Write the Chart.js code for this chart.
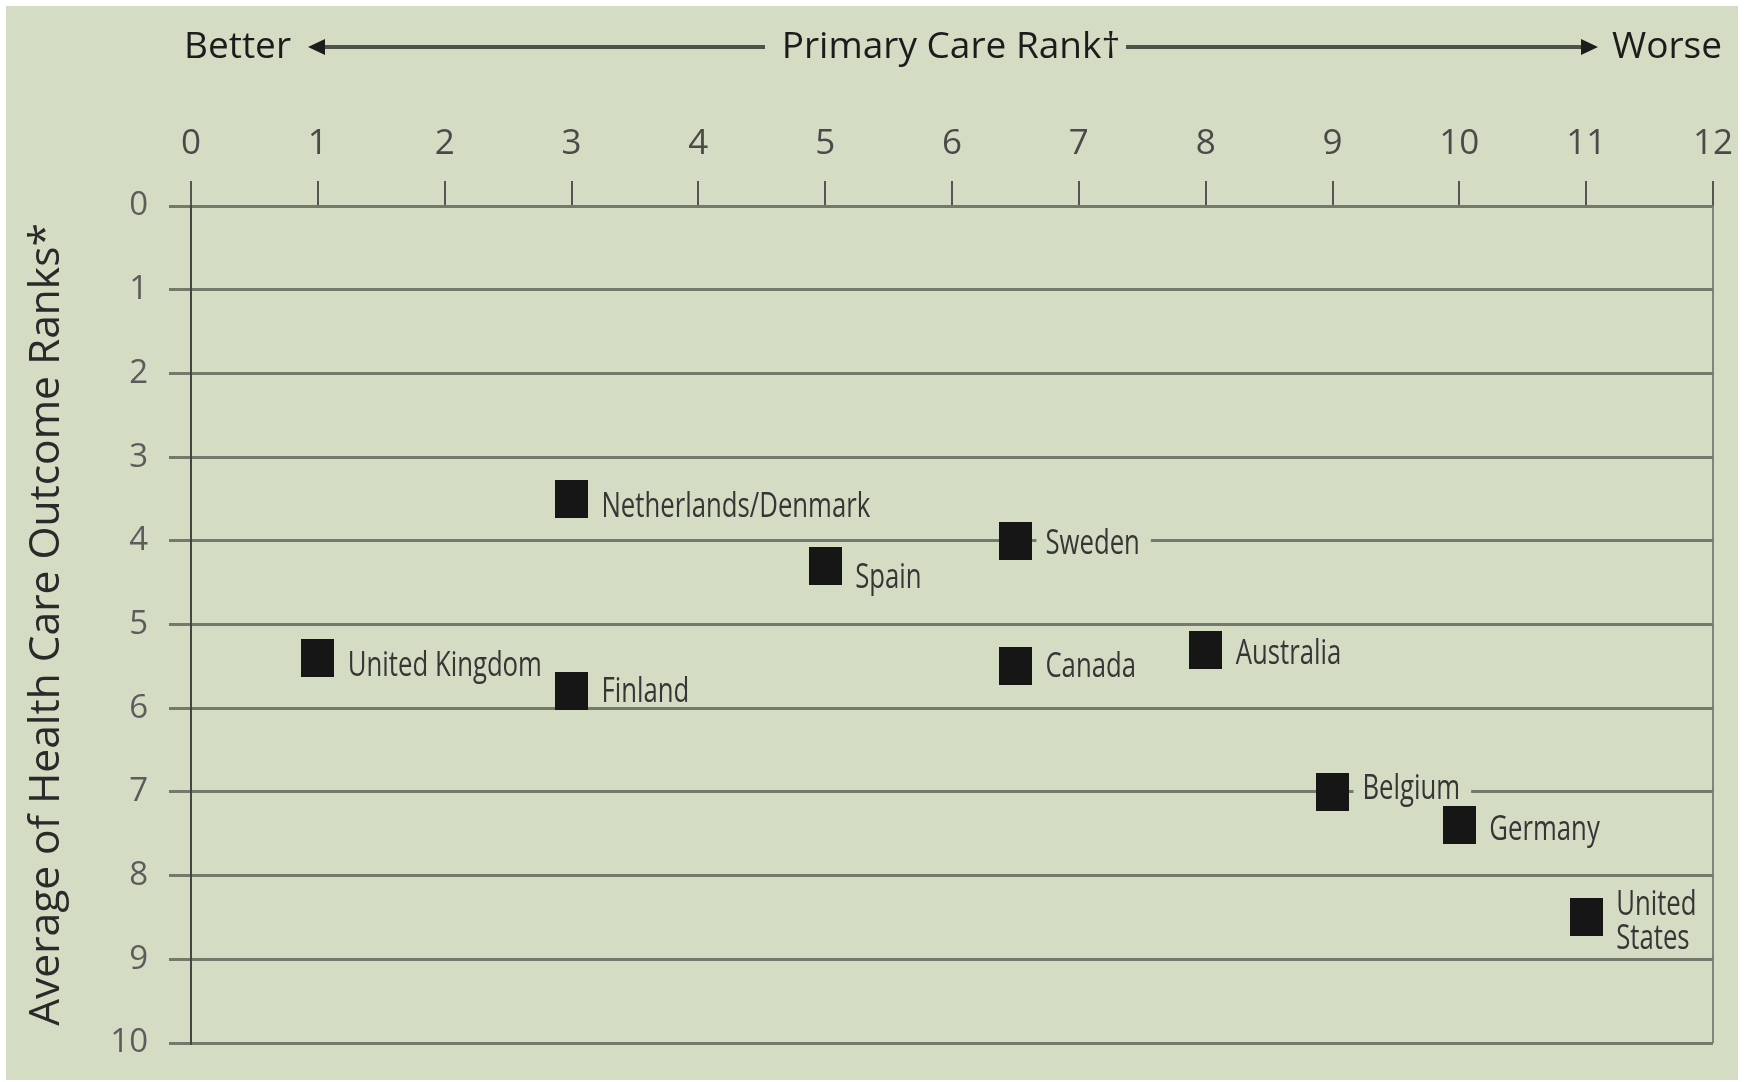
<!DOCTYPE html>
<html><head><meta charset="utf-8">
<script src="https://cdn.jsdelivr.net/npm/chart.js@4.4.1/dist/chart.umd.min.js"></script>
<style>
html,body{margin:0;padding:0;background:#fff;}
#wrap{position:absolute;left:6px;top:6px;width:1732px;height:1074px;background:#d4dcc4;}
canvas{display:block;}
</style></head><body>
<div id="wrap"><canvas id="c" width="1732" height="1074"></canvas></div>
<script>
// ---- data ----
const countries = ['Netherlands/Denmark','Spain','Sweden','United Kingdom','Finland','Canada','Australia','Belgium','Germany','United States'];
const countryLabelLines = [['Netherlands/Denmark'],['Spain'],['Sweden'],['United Kingdom'],['Finland'],['Canada'],['Australia'],['Belgium'],['Germany'],['United','States']];
const primaryCareRank = [3, 5, 6.5, 1, 3, 6.5, 8, 9, 10, 11];
const outcomeRank     = [3.5, 4.3, 4.0, 5.4, 5.8, 5.5, 5.3, 7.0, 7.4, 8.5];
const xTickValues = [0,1,2,3,4,5,6,7,8,9,10,11,12];
const yTickValues = [0,1,2,3,4,5,6,7,8,9,10];
const headerLeft = 'Better';
const headerCenter = 'Primary Care Rank\u2020';
const headerRight = 'Worse';
const yTitle = 'Average of Health Care Outcome Ranks*';

// ---- styles ----
const labelDy = [8, 12, 3, 8, 1, 1, 4, -3, 5, 5];
const SANS = "'Open Sans','Noto Sans',sans-serif";
const GRID = '#737a6c';
const BG = '#d4dcc4';
const LABEL_SCALE = 0.735;

const marker = document.createElement('canvas');
marker.width = 33; marker.height = 38;
(function(){const m = marker.getContext('2d'); m.fillStyle = '#161616'; m.fillRect(0,0,33,38);})();

const points = primaryCareRank.map((x,i)=>({x:x, y:outcomeRank[i]}));

const labelPlugin = {
  id:'countryLabels',
  beforeDatasetsDraw(chart){
    const ctx = chart.ctx, xs = chart.scales.x, ys = chart.scales.y;
    ctx.save();
    ctx.font = "35px " + SANS;
    ctx.textBaseline = 'middle';
    ctx.textAlign = 'left';
    countryLabelLines.forEach((lines,i)=>{
      const px = xs.getPixelForValue(primaryCareRank[i]) + 30;
      const lh = 34;
      const h = lines.length*lh;
      const py = ys.getPixelForValue(outcomeRank[i]) + labelDy[i];
      const w = Math.max(...lines.map(l=>ctx.measureText(l).width)) * LABEL_SCALE;
      const top = py - h/2;
      ctx.fillStyle = BG;
      ctx.fillRect(px-9, top+7, w+20, h-14);
      ctx.fillStyle = '#363636';
      lines.forEach((l,k)=>{
        ctx.save();
        ctx.translate(px, top + lh/2 + k*lh);
        ctx.scale(LABEL_SCALE, 1);
        ctx.fillText(l, 0, 0);
        ctx.restore();
      });
    });
    ctx.restore();
  }
};

const headerPlugin = {
  id:'header',
  afterDraw(chart){
    const ctx = chart.ctx;
    const y = 41;
    ctx.save();
    ctx.font = "37px " + SANS;
    ctx.fillStyle = '#1c1c1c';
    ctx.textBaseline = 'middle';
    ctx.textAlign = 'right'; ctx.fillText(headerLeft, 285, y);
    ctx.textAlign = 'center'; ctx.fillText(headerCenter, 945, y);
    ctx.textAlign = 'left'; ctx.fillText(headerRight, 1606, y);
    ctx.strokeStyle = '#4e524a'; ctx.lineWidth = 4;
    ctx.beginPath(); ctx.moveTo(312, y); ctx.lineTo(759, y); ctx.stroke();
    ctx.beginPath(); ctx.moveTo(1120, y); ctx.lineTo(1580, y); ctx.stroke();
    ctx.fillStyle = '#1c1c1c';
    ctx.beginPath(); ctx.moveTo(302, y); ctx.lineTo(319, y-8); ctx.lineTo(319, y+8); ctx.closePath(); ctx.fill();
    ctx.beginPath(); ctx.moveTo(1592, y); ctx.lineTo(1575, y-8); ctx.lineTo(1575, y+8); ctx.closePath(); ctx.fill();
    ctx.restore();
  }
};

new Chart(document.getElementById('c'), {
  type:'scatter',
  data:{ datasets:[{ label:'Countries', data:points, pointStyle:marker, pointRadius:18, pointHoverRadius:18 }] },
  options:{
    responsive:false, animation:false, devicePixelRatio:1,
    layout:{ padding:{ left:0, top:0, right:25, bottom:37 } },
    plugins:{ legend:{display:false}, tooltip:{enabled:false}, title:{display:false} },
    scales:{
      x:{
        type:'linear', position:'top', min:0, max:12,
        afterFit(s){ s.height = 200; s.paddingLeft = 0; s.paddingRight = 0; },
        afterBuildTicks(s){ s.ticks = xTickValues.map(v=>({value:v})); },
        ticks:{ font:{family:SANS, size:35}, color:'#4a4a4a', padding:16 },
        grid:{
          drawOnChartArea:true, tickLength:25, tickColor:'#555', tickWidth:2,
          color:(c)=> (c.tick && (c.tick.value===12)) ? '#80857a' : 'transparent',
          lineWidth:2
        },
        border:{ display:false }
      },
      y:{
        type:'linear', reverse:true, min:0, max:10,
        afterFit(s){ s.width = 185; s.paddingTop = 0; s.paddingBottom = 0; },
        afterBuildTicks(s){ s.ticks = yTickValues.map(v=>({value:v})); },
        ticks:{ font:{family:SANS, size:33}, color:'#5c5c5c', padding:21 },
        grid:{ color:GRID, lineWidth:3, tickLength:22, tickColor:GRID },
        border:{ display:true, color:'#444', width:2 },
        title:{ display:true, text:yTitle, font:{family:SANS, size:42.5}, color:'#2a2a2a', padding:{top:15, bottom:0} }
      }
    }
  },
  plugins:[labelPlugin, headerPlugin]
});
</script>
</body></html>
